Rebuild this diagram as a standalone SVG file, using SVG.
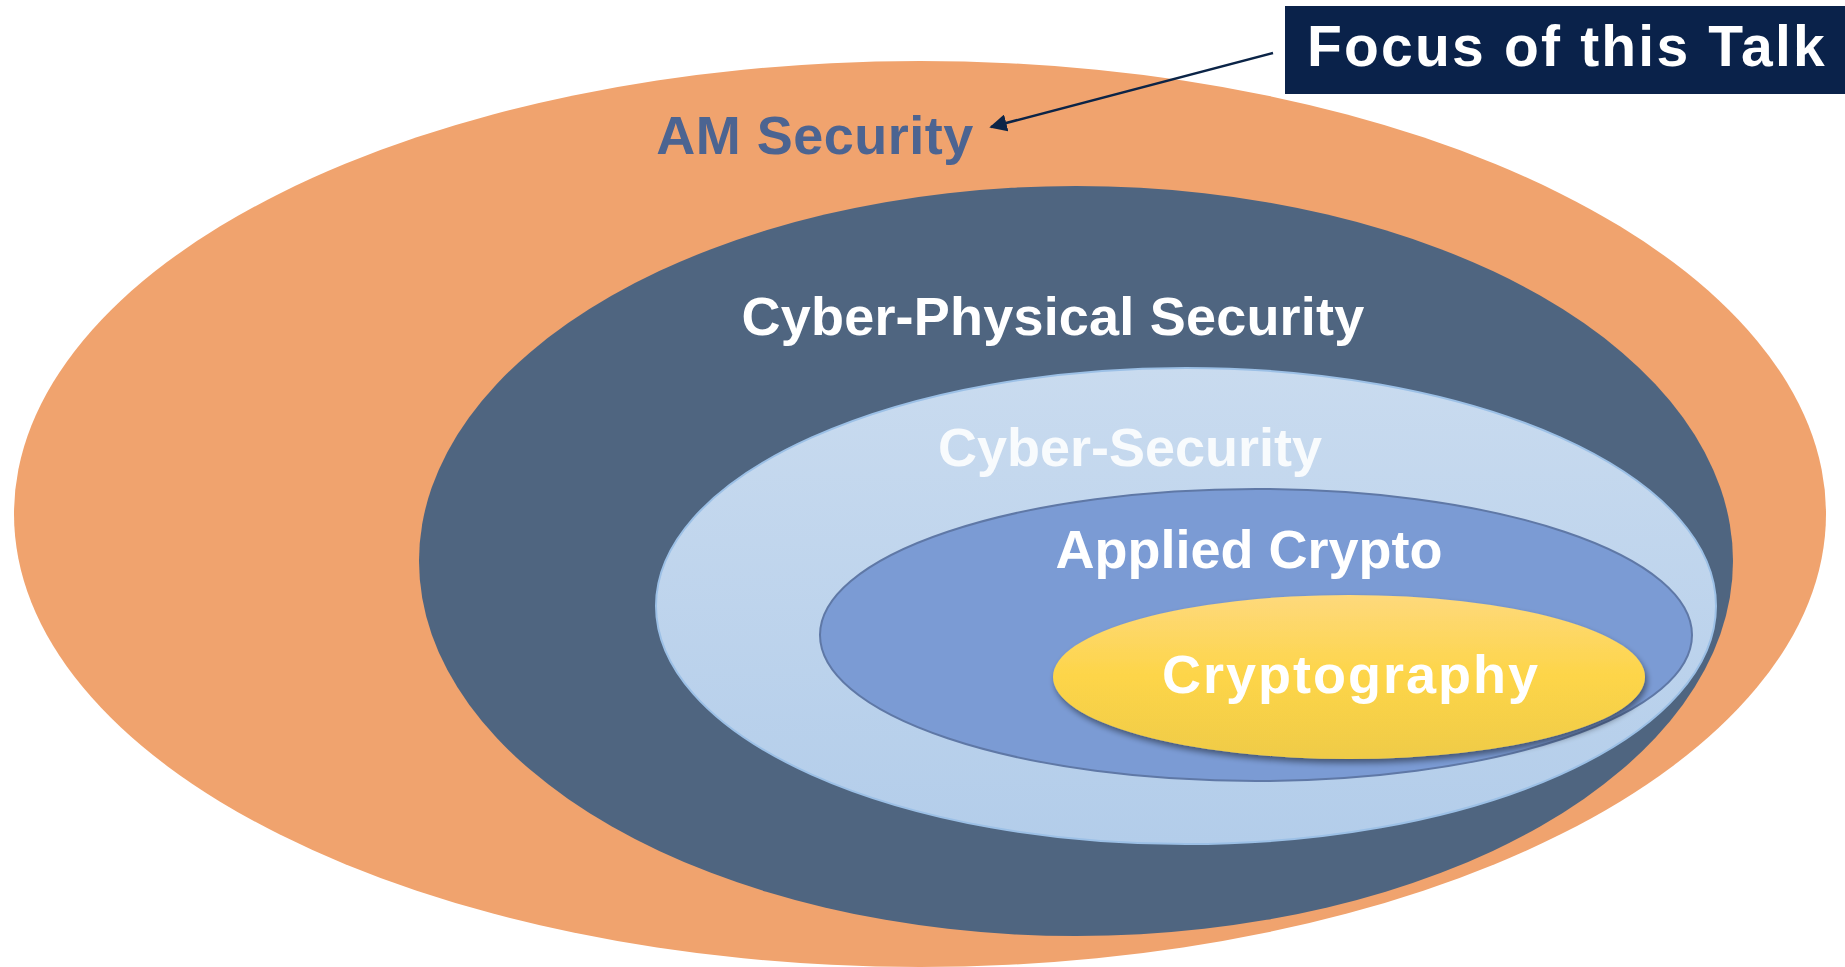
<svg xmlns="http://www.w3.org/2000/svg" width="1845" height="967" viewBox="0 0 1845 967">
<defs>
<style>
.lbl{font-family:"Liberation Sans",Arial,sans-serif;font-weight:bold;font-size:54px;text-anchor:middle}
</style>
<linearGradient id="gLight" x1="0" y1="0" x2="0" y2="1">
<stop offset="0" stop-color="#C9DBEF"/><stop offset="1" stop-color="#B3CDEA"/>
</linearGradient>
<linearGradient id="gYellow" x1="0" y1="0" x2="0" y2="1">
<stop offset="0" stop-color="#FED97C"/><stop offset="0.5" stop-color="#FDD548"/><stop offset="1" stop-color="#EFCB47"/>
</linearGradient>
<filter id="shadow" x="-10%" y="-20%" width="120%" height="150%">
<feGaussianBlur in="SourceAlpha" stdDeviation="3"/>
<feOffset dx="2" dy="4" result="b"/>
<feComponentTransfer><feFuncA type="linear" slope="0.45"/></feComponentTransfer>
<feMerge><feMergeNode/><feMergeNode in="SourceGraphic"/></feMerge>
</filter>
<marker id="arr" viewBox="0 0 10 10" refX="9" refY="5" markerWidth="7" markerHeight="7" orient="auto-start-reverse" markerUnits="strokeWidth">
<path d="M0,0 L10,5 L0,10 z" fill="#0B2447"/>
</marker>
</defs>
<rect width="1845" height="967" fill="#FFFFFF"/>
<g id="am-security">
<ellipse cx="920" cy="514" rx="906" ry="453" fill="#F0A36E"/>
<text class="lbl" x="815" y="154" fill="#4C6491" style="letter-spacing:0.5px">AM Security</text>
</g>
<g id="cyber-physical">
<ellipse cx="1076" cy="561" rx="657" ry="375" fill="#4F6580"/>
<text class="lbl" x="1053" y="335" fill="#FFFFFF" style="letter-spacing:0.2px">Cyber-Physical Security</text>
</g>
<g id="cyber-security">
<ellipse cx="1186" cy="606" rx="530" ry="238" fill="url(#gLight)" stroke="#9CC0E6" stroke-width="2"/>
<text class="lbl" x="1130" y="466" fill="#FFFFFF" fill-opacity="0.88">Cyber-Security</text>
</g>
<g id="applied-crypto">
<ellipse cx="1256" cy="635" rx="436" ry="146" fill="#7B9BD4" stroke="#5F78A6" stroke-width="2"/>
<text class="lbl" x="1249" y="568" fill="#FFFFFF">Applied Crypto</text>
</g>
<g id="cryptography">
<ellipse cx="1349" cy="677" rx="296" ry="82" fill="url(#gYellow)" filter="url(#shadow)"/>
<text class="lbl" x="1351" y="693" fill="#FFFFFF" style="letter-spacing:2px">Cryptography</text>
</g>
<g id="focus">
<rect x="1285" y="6" width="560" height="88" fill="#0A224A"/>
<text class="lbl" x="1567" y="66" fill="#FFFFFF" style="font-size:57px;letter-spacing:2.2px">Focus of this Talk</text>
</g>
<g id="connectors">
<line x1="1273" y1="53" x2="991" y2="127" stroke="#0B2447" stroke-width="2.5" marker-end="url(#arr)"/>
</g>
</svg>
